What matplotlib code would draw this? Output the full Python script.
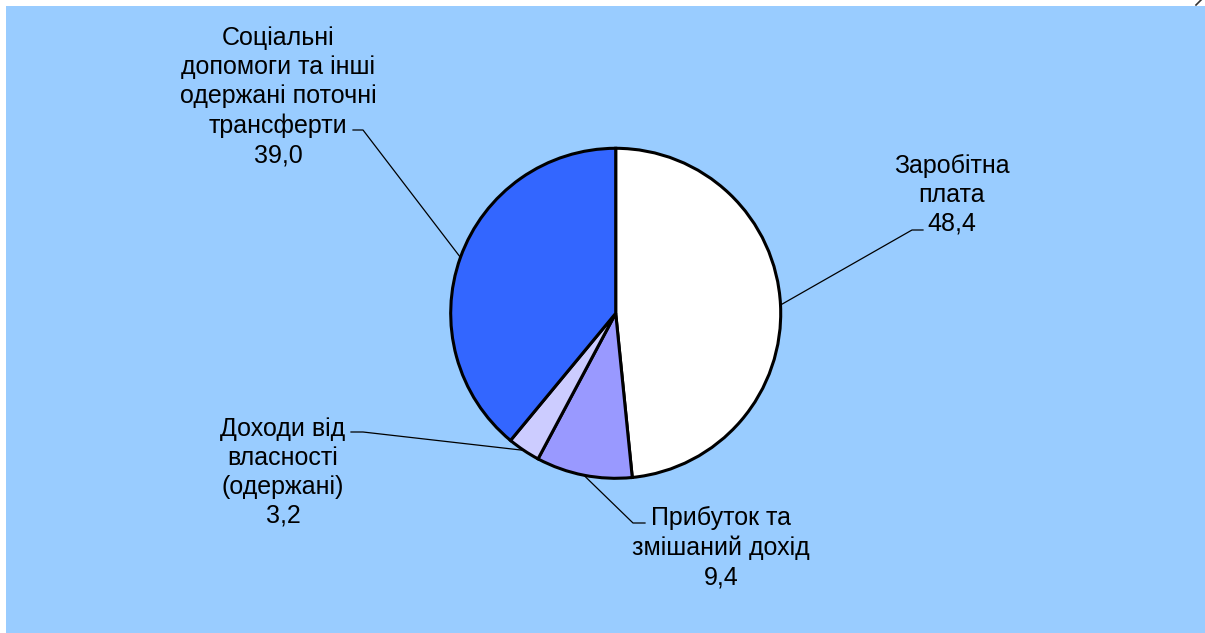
import numpy as np
import matplotlib.pyplot as plt
from matplotlib.patches import Rectangle

plt.rcParams['font.family'] = ['Liberation Sans', 'DejaVu Sans']

# shares of household income, %
categories = ['Заробітна\nплата', 'Прибуток та\nзмішаний дохід',
              'Доходи від\nвласності\n(одержані)',
              'Соціальні\nдопомоги та інші\nодержані поточні\nтрансферти']
values = [48.4, 9.4, 3.2, 39.0]
value_labels = ['48,4', '9,4', '3,2', '39,0']
colors = ['#FFFFFF', '#9999FF', '#CCCCFF', '#3366FF']

W, H = 1205, 633
fig = plt.figure(figsize=(W / 100, H / 100), dpi=100)
ax = fig.add_axes([0, 0, 1, 1])

# background panel (pixel coords, y up)
ax.add_patch(Rectangle((6, 0), W - 6, H - 6, facecolor='#99CCFF',
                       edgecolor='none', zorder=0))
# bit of a bracket peeking in at the top right
ax.plot([1196, 1201], [H - 5, H], color='#333333', lw=1.2)

cx, cy, r = 615.7, H - 313.3, 165
explode = [3.3 / r, 0, 0, 0]
wedges, _ = ax.pie(values, colors=colors, startangle=90, counterclock=False,
                   center=(cx, cy), radius=r, explode=explode,
                   wedgeprops=dict(edgecolor='black', linewidth=2.2))

# label layout: (text x, last baseline y in image px, elbow end, elbow start)
label_pos = [
    (952, 231, (923, 230), (912, 230)),
    (721, 584, (645, 523), (633, 523)),
    (283, 523, (351, 432), (363, 432)),
    (278, 162, (353, 130), (363, 130)),
]

for w, cat, val, (tx, ty, e1, e2) in zip(wedges, categories, value_labels, label_pos):
    ang = np.deg2rad((w.theta1 + w.theta2) / 2)
    wx, wy = w.center
    px = wx + r * np.cos(ang)
    py = wy + r * np.sin(ang)
    ax.plot([px, e2[0], e1[0]], [py, H - e2[1], H - e1[1]],
            color='black', lw=0.9, zorder=5)
    ax.text(tx, H - ty, cat + '\n' + val, ha='center', va='baseline',
            fontsize=18, linespacing=1.27, color='black')

ax.set_xlim(0, W)
ax.set_ylim(0, H)
ax.set_aspect('auto')
ax.axis('off')

fig.savefig('out.png', dpi=100, facecolor='white')
